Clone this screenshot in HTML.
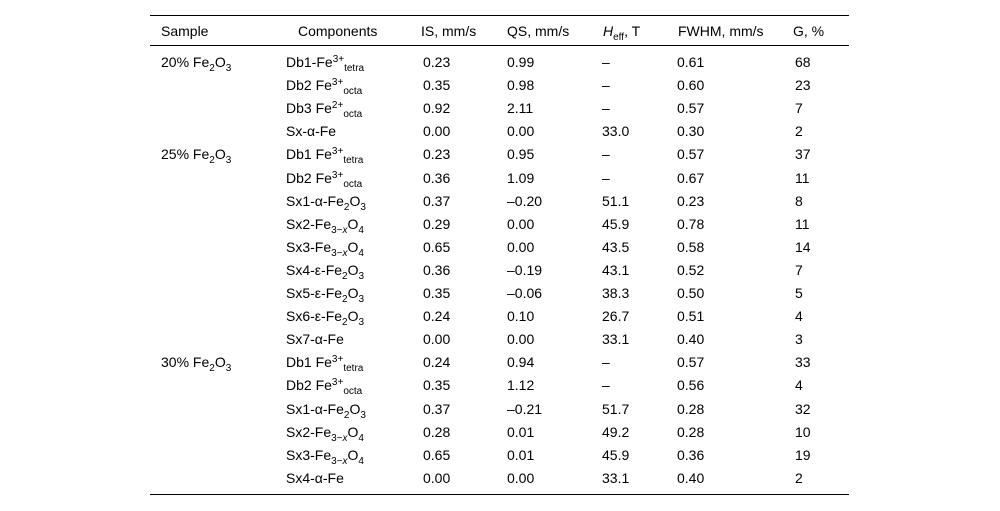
<!DOCTYPE html>
<html><head><meta charset="utf-8">
<style>
body{margin:0;background:#fff;width:1000px;height:511px;position:relative;overflow:hidden;font-family:"Liberation Sans",Arial,sans-serif;font-size:14px;color:#000}
.r{position:absolute;left:150px;width:699px;height:1px;background:#000}
.c{position:absolute;height:20px;line-height:20px;white-space:nowrap}
sub,sup{font-size:10px;line-height:0}
sub{vertical-align:-4px}sup{vertical-align:5px}
</style></head><body>
<div class="r" style="top:15px"></div>
<div class="r" style="top:45px"></div>
<div class="r" style="top:494px"></div>
<div id="t"></div>
<script>
const colX=[161,286,423,507,602,677,795];
const headX=[161,298,421,507,603,678,793];
const header=['Sample','Components','IS, mm/s','QS, mm/s','<i>H</i><sub>eff</sub>, T','FWHM, mm/s','G, %'];
const rows=[
['20% Fe<sub>2</sub>O<sub>3</sub>','Db1-Fe<sup>3+</sup><sub>tetra</sub>','0.23','0.99','–','0.61','68'],
['','Db2 Fe<sup>3+</sup><sub>octa</sub>','0.35','0.98','–','0.60','23'],
['','Db3 Fe<sup>2+</sup><sub>octa</sub>','0.92','2.11','–','0.57','7'],
['','Sx-α-Fe','0.00','0.00','33.0','0.30','2'],
['25% Fe<sub>2</sub>O<sub>3</sub>','Db1 Fe<sup>3+</sup><sub>tetra</sub>','0.23','0.95','–','0.57','37'],
['','Db2 Fe<sup>3+</sup><sub>octa</sub>','0.36','1.09','–','0.67','11'],
['','Sx1-α-Fe<sub>2</sub>O<sub>3</sub>','0.37','–0.20','51.1','0.23','8'],
['','Sx2-Fe<sub>3−<i>x</i></sub>O<sub>4</sub>','0.29','0.00','45.9','0.78','11'],
['','Sx3-Fe<sub>3−<i>x</i></sub>O<sub>4</sub>','0.65','0.00','43.5','0.58','14'],
['','Sx4-ε-Fe<sub>2</sub>O<sub>3</sub>','0.36','–0.19','43.1','0.52','7'],
['','Sx5-ε-Fe<sub>2</sub>O<sub>3</sub>','0.35','–0.06','38.3','0.50','5'],
['','Sx6-ε-Fe<sub>2</sub>O<sub>3</sub>','0.24','0.10','26.7','0.51','4'],
['','Sx7-α-Fe','0.00','0.00','33.1','0.40','3'],
['30% Fe<sub>2</sub>O<sub>3</sub>','Db1 Fe<sup>3+</sup><sub>tetra</sub>','0.24','0.94','–','0.57','33'],
['','Db2 Fe<sup>3+</sup><sub>octa</sub>','0.35','1.12','–','0.56','4'],
['','Sx1-α-Fe<sub>2</sub>O<sub>3</sub>','0.37','–0.21','51.7','0.28','32'],
['','Sx2-Fe<sub>3−<i>x</i></sub>O<sub>4</sub>','0.28','0.01','49.2','0.28','10'],
['','Sx3-Fe<sub>3−<i>x</i></sub>O<sub>4</sub>','0.65','0.01','45.9','0.36','19'],
['','Sx4-α-Fe','0.00','0.00','33.1','0.40','2']];
const t=document.getElementById('t');
function cell(html,x,yc,name){
  const d=document.createElement('div');
  d.className='c';d.innerHTML=html;d.style.left=x+'px';d.style.top=(yc-10)+'px';
  
  
  t.appendChild(d);
}
header.forEach((h,i)=>cell(h,headX[i],31,'header-cell'));
rows.forEach((r,j)=>{const yc=62+j*23.1;r.forEach((v,i)=>{if(v)cell(v,colX[i],yc,'table-cell');});});
</script>
</body></html>
